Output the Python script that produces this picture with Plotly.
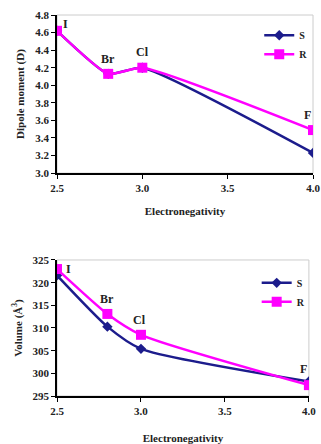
import plotly.graph_objects as go

en = [2.5, 2.8, 3.0, 4.0]
labels = ["I", "Br", "Cl", "F"]
dip_S = [4.62, 4.13, 4.20, 3.23]
dip_R = [4.62, 4.13, 4.20, 3.49]
vol_S = [321.6, 310.3, 305.4, 298.2]
vol_R = [323.0, 313.1, 308.5, 297.4]

# label positions (x, y) per chart
dip_lab = [(2.55, 4.70), (2.80, 4.30), (3.00, 4.38), (3.97, 3.66)]
vol_lab = [(2.57, 323.0), (2.80, 316.4), (2.99, 311.8), (3.97, 301.0)]

S_COL = "#1c1c8c"
R_COL = "#ff00ff"
FONT = "Liberation Serif"

fig = go.Figure()
fig.add_trace(go.Scatter(x=en, y=dip_S, name="<b>S</b>", mode="lines+markers",
                         line=dict(color=S_COL, width=2.5, shape="spline", smoothing=0.5),
                         marker=dict(symbol="diamond", size=8, color=S_COL),
                         xaxis="x", yaxis="y", legend="legend"))
fig.add_trace(go.Scatter(x=en, y=dip_R, name="<b>R</b>", mode="lines+markers",
                         line=dict(color=R_COL, width=2.5, shape="spline", smoothing=0.5),
                         marker=dict(symbol="square", size=10, color=R_COL),
                         xaxis="x", yaxis="y", legend="legend"))
fig.add_trace(go.Scatter(x=en, y=vol_S, name="<b>S</b>", mode="lines+markers",
                         line=dict(color=S_COL, width=2.5, shape="spline", smoothing=0.6),
                         marker=dict(symbol="diamond", size=8, color=S_COL),
                         xaxis="x2", yaxis="y2", legend="legend2"))
fig.add_trace(go.Scatter(x=en, y=vol_R, name="<b>R</b>", mode="lines+markers",
                         line=dict(color=R_COL, width=2.5, shape="spline", smoothing=0.6),
                         marker=dict(symbol="square", size=10, color=R_COL),
                         xaxis="x2", yaxis="y2", legend="legend2"))

annotations = []
for (x, y), t in zip(dip_lab, labels):
    annotations.append(dict(x=x, y=y, xref="x", yref="y", text="<b>%s</b>" % t, showarrow=False,
                            font=dict(family=FONT, size=12, color="#222"), xanchor="center"))
for (x, y), t in zip(vol_lab, labels):
    annotations.append(dict(x=x, y=y, xref="x2", yref="y2", text="<b>%s</b>" % t, showarrow=False,
                            font=dict(family=FONT, size=12, color="#222"), xanchor="center"))

axis_common = dict(showline=True, linecolor="black", linewidth=1.5, ticks="outside",
                   ticklen=4, tickcolor="black", showgrid=False, zeroline=False,
                   automargin=False,
                   tickfont=dict(family=FONT, size=11, color="#222"))

fig.update_layout(
    width=321, height=444,
    margin=dict(l=57, r=8, t=15, b=48),
    paper_bgcolor="white", plot_bgcolor="white",
    font=dict(family=FONT, color="#222"),
    showlegend=True,
    xaxis=dict(domain=[0, 1], anchor="y", range=[2.5, 4.0], tickvals=[2.5, 3.0, 3.5, 4.0],
               ticktext=["<b>2.5</b>", "<b>3.0</b>", "<b>3.5</b>", "<b>4.0</b>"],
               title=dict(text="<b>Electronegativity</b>", font=dict(family=FONT, size=11), standoff=14),
               **axis_common),
    yaxis=dict(domain=[0.585, 1], anchor="x", range=[3.0, 4.8],
               tickvals=[3.0, 3.2, 3.4, 3.6, 3.8, 4.0, 4.2, 4.4, 4.6, 4.8],
               ticktext=["<b>%.1f</b>" % v for v in [3.0, 3.2, 3.4, 3.6, 3.8, 4.0, 4.2, 4.4, 4.6, 4.8]],
               title=dict(text="<b>Dipole moment (D)</b>", font=dict(family=FONT, size=11), standoff=8),
               **axis_common),
    xaxis2=dict(domain=[0, 0.984], anchor="y2", range=[2.5, 4.0], tickvals=[2.5, 3.0, 3.5, 4.0],
                ticktext=["<b>2.5</b>", "<b>3.0</b>", "<b>3.5</b>", "<b>4.0</b>"],
                title=dict(text="<b>Electronegativity</b>", font=dict(family=FONT, size=11), standoff=20),
                **axis_common),
    yaxis2=dict(domain=[0, 0.357], anchor="x2", range=[295, 325],
                tickvals=[295, 300, 305, 310, 315, 320, 325],
                ticktext=["<b>%d</b>" % v for v in [295, 300, 305, 310, 315, 320, 325]],
                title=dict(text="<b>Volume (Å<sup>3</sup>)</b>", font=dict(family=FONT, size=11), standoff=8),
                **axis_common),
    legend=dict(x=0.79, y=0.985, xanchor="left", yanchor="top", bgcolor="rgba(0,0,0,0)",
                font=dict(family=FONT, size=10), itemwidth=30, tracegroupgap=0),
    legend2=dict(x=0.78, y=0.335, xanchor="left", yanchor="top", bgcolor="rgba(0,0,0,0)",
                 font=dict(family=FONT, size=10), itemwidth=30, tracegroupgap=0),
    annotations=annotations,
    shapes=[
        dict(type="rect", xref="x domain", yref="y domain", x0=0, x1=1, y0=0, y1=1,
             line=dict(color="#cccccc", width=1), layer="below"),
        dict(type="rect", xref="x2 domain", yref="y2 domain", x0=0, x1=1, y0=0, y1=1,
             line=dict(color="#cccccc", width=1), layer="below"),
    ],
)

fig.write_html("out.html")
